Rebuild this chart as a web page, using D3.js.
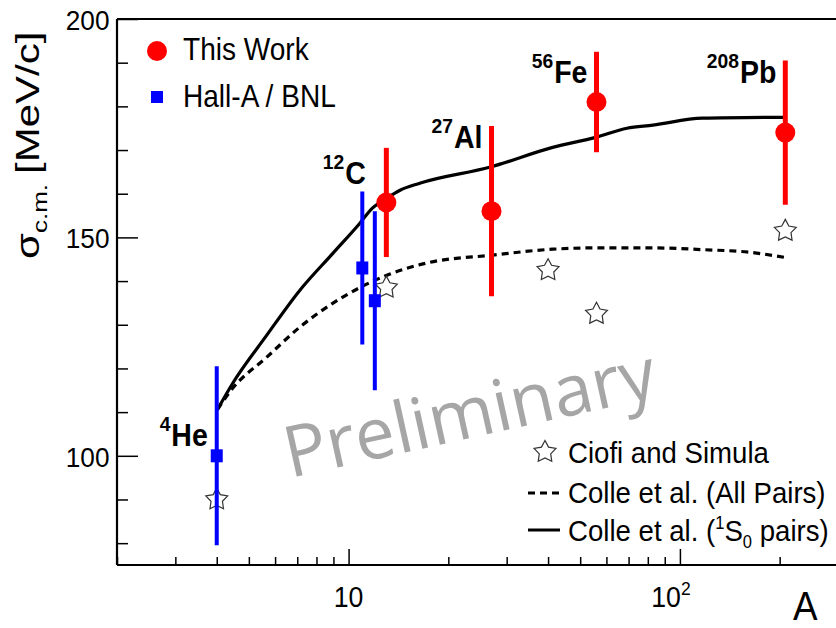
<!DOCTYPE html>
<html>
<head>
<meta charset="utf-8">
<script src="https://cdn.jsdelivr.net/npm/d3@7"></script>
<style>
  body { margin: 0; background: #fff; }
  svg { display: block; }
  text { font-family: "Liberation Sans", Arial, Helvetica, sans-serif; }
</style>
</head>
<body>
<svg id="chart" width="836" height="628"></svg>
<script>
// ---- data ----------------------------------------------------------
// This work (A positions as plotted; 12C is displaced to 13 for clarity)
const thisWorkA     = [13, 27, 56, 208];
const thisWorkSigma = [158, 156, 181, 174];
const thisWorkErr   = [12.5, 19.5, 11.5, 16.5];

// Hall-A / BNL
const hallA_A     = [4, 11, 12];
const hallASigma  = [100, 143, 135.5];
const hallAErr    = [20.5, 17.5, 20.5];

// Ciofi and Simula
const ciofiA     = [4, 13, 40, 56, 208];
const ciofiSigma = [90, 138.5, 142.5, 132.5, 151.5];

// Colle et al. (all pairs)
const colleAllA     = [4.02, 4.46, 5.65, 7.11, 8.95, 10.8, 13.0, 17.6, 26.8, 41.3, 55.7, 82.9, 117, 162, 208];
const colleAllSigma = [110.6, 115.4, 122.5, 129.4, 134.9, 138.5, 141.3, 144.3, 145.9, 147.3, 147.6, 147.6, 147.2, 146.6, 145.4];

// Colle et al. (1S0 pairs)
const colleS0A     = [4.02, 4.46, 5.65, 7.11, 8.95, 10.8, 11.8, 13.0, 14.3, 16.4, 26.8, 41.3, 55.7, 69.2, 82.9, 117, 208];
const colleS0Sigma = [110.6, 116.5, 127.5, 137.8, 146.3, 153.2, 156.7, 158.9, 160.8, 162.4, 166.1, 170.6, 172.9, 175.0, 175.7, 177.3, 177.5];

// nucleus annotations: mass number, symbol, A and sigma level of the baseline
const nucleusMass   = ["4", "12", "27", "56", "208"];
const nucleusSymbol = ["He", "C", "Al", "Fe", "Pb"];
const nucleusA      = [4, 12, 27, 56, 208];
const nucleusLevel  = [102.3, 162.2, 170.4, 185.3, 185.3];

const yMajorTicks = [100, 150, 200];
const yMinorTicks = [80, 90, 110, 120, 130, 140, 160, 170, 180, 190];
const xMajorTicks = [10, 100];
const xMinorTicks = [2, 3, 4, 5, 6, 7, 8, 9, 20, 30, 40, 50, 60, 70, 80, 90, 200, 300];

// ---- layout --------------------------------------------------------
const svg = d3.select("#chart");
const plotLeft = 117, plotTop = 19, plotBottom = 565, plotRight = 838;

const x = d3.scaleLog().domain([2, 300]).range([plotLeft, plotRight]);
const y = d3.scaleLinear().domain([75, 200]).range([plotBottom, plotTop]);

const RED = "#ff0000", BLUE = "#0000ff";
const NARROW = 0.92;   // Helvetica-like glyphs, set slightly condensed

// text placed at (px, py) with a condensed glyph width
function label(parent, px, py, size) {
  return parent.append("text")
    .attr("transform", `translate(${px},${py}) scale(${NARROW},1)`)
    .style("font-size", size + "px");
}

// watermark
svg.append("text")
  .attr("transform", "translate(290,478) rotate(-12.5)")
  .style("font-family", "'Open Sans', sans-serif")
  .style("font-size", "71px")
  .attr("fill", "#a6a6a6")
  .text("Preliminary");

// ---- axes ----------------------------------------------------------
function styleAxis(g) {
  g.select(".domain").remove();
  g.selectAll(".tick line").attr("stroke", "#000").attr("stroke-width", 1.5);
}

svg.append("g").attr("transform", `translate(0,${plotBottom})`)
  .call(d3.axisBottom(x).tickValues(xMinorTicks).tickSize(-8).tickFormat(""))
  .call(styleAxis);
svg.append("g").attr("transform", `translate(0,${plotBottom})`)
  .call(d3.axisBottom(x).tickValues(xMajorTicks).tickSize(-16).tickFormat(""))
  .call(styleAxis);

svg.append("g").attr("transform", `translate(${plotLeft},0)`)
  .call(d3.axisLeft(y).tickValues(yMinorTicks).tickSize(-11).tickFormat(""))
  .call(styleAxis);
const gy = svg.append("g").attr("transform", `translate(${plotLeft},0)`)
  .call(d3.axisLeft(y).tickValues(yMajorTicks).tickSize(-21).tickPadding(7).tickFormat(d3.format("d")))
  .call(styleAxis);
gy.selectAll(".tick text")
  .attr("fill", "#000")
  .attr("x", -7.5 / NARROW)
  .attr("dy", "0.36em")
  .attr("transform", `scale(${NARROW},1)`)
  .style("font-family", "'Liberation Sans', Arial, sans-serif")
  .style("font-size", "28.5px");

// frame
const frame = svg.append("g").attr("stroke", "#000").attr("stroke-width", 2.2).attr("fill", "none");
frame.append("line").attr("x1", plotLeft).attr("x2", 836).attr("y1", plotTop).attr("y2", plotTop);
frame.append("line").attr("x1", plotLeft).attr("x2", plotLeft).attr("y1", plotTop).attr("y2", plotBottom);
frame.append("line").attr("x1", plotLeft).attr("x2", 836).attr("y1", plotBottom).attr("y2", plotBottom);

// x tick labels
label(svg, x(10), 607, 29).attr("text-anchor", "middle").text("10");
const t100 = label(svg, x(100) - 9, 607, 29).attr("text-anchor", "middle");
t100.append("tspan").text("10");
t100.append("tspan").attr("dy", -12).style("font-size", "19px").text("2");

// axis titles
label(svg, 793, 620, 40).text("A");

const yt = svg.append("text")
  .attr("transform", "translate(39,259) rotate(-90) scale(1,0.78)")
  .style("font-size", "42px");
yt.append("tspan").text("σ");
yt.append("tspan").attr("dy", 10).style("font-size", "26px").text("c.m.");
yt.append("tspan").attr("dy", -10).attr("dx", 10).text("[MeV/c]");

// ---- theory curves -------------------------------------------------
const line = d3.line().x(d => x(d[0])).y(d => y(d[1])).curve(d3.curveMonotoneX);

svg.append("path")
  .datum(d3.zip(colleAllA, colleAllSigma))
  .attr("d", line)
  .attr("fill", "none").attr("stroke", "#000").attr("stroke-width", 3.2)
  .attr("stroke-dasharray", "7,5");

svg.append("path")
  .datum(d3.zip(colleS0A, colleS0Sigma))
  .attr("d", line)
  .attr("fill", "none").attr("stroke", "#000").attr("stroke-width", 3.2);

// ---- star markers --------------------------------------------------
function starPath(R, r) {
  const pts = [];
  for (let i = 0; i < 10; i++) {
    const a = -Math.PI / 2 + i * Math.PI / 5;
    const rad = i % 2 === 0 ? R : r;
    pts.push([rad * Math.cos(a), rad * Math.sin(a)]);
  }
  return "M" + pts.map(p => p[0].toFixed(2) + "," + p[1].toFixed(2)).join("L") + "Z";
}
const STAR = starPath(11.5, 6);

svg.append("g").selectAll("path")
  .data(d3.zip(ciofiA, ciofiSigma))
  .join("path")
  .attr("transform", d => `translate(${x(d[0])},${y(d[1])})`)
  .attr("d", STAR)
  .attr("fill", "none").attr("stroke", "#333").attr("stroke-width", 1.2);

// ---- Hall-A / BNL --------------------------------------------------
const hall = d3.zip(hallA_A, hallASigma, hallAErr);
svg.append("g").selectAll("line")
  .data(hall).join("line")
  .attr("x1", d => x(d[0])).attr("x2", d => x(d[0]))
  .attr("y1", d => y(d[1] - d[2])).attr("y2", d => y(d[1] + d[2]))
  .attr("stroke", BLUE).attr("stroke-width", 4);
svg.append("g").selectAll("rect")
  .data(hall).join("rect")
  .attr("x", d => x(d[0]) - 6).attr("y", d => y(d[1]) - 6.5)
  .attr("width", 12).attr("height", 13)
  .attr("fill", BLUE);

// ---- this work -----------------------------------------------------
const tw = d3.zip(thisWorkA, thisWorkSigma, thisWorkErr);
svg.append("g").selectAll("line")
  .data(tw).join("line")
  .attr("x1", d => x(d[0])).attr("x2", d => x(d[0]))
  .attr("y1", d => y(d[1] - d[2])).attr("y2", d => y(d[1] + d[2]))
  .attr("stroke", RED).attr("stroke-width", 5);
svg.append("g").selectAll("circle")
  .data(tw).join("circle")
  .attr("cx", d => x(d[0])).attr("cy", d => y(d[1]))
  .attr("r", 10).attr("fill", RED);

// ---- nucleus labels ------------------------------------------------
nucleusA.forEach((a, i) => {
  const t = label(svg, x(a) - 9, y(nucleusLevel[i]), 31)
    .attr("text-anchor", "end")
    .style("font-weight", "bold");
  t.append("tspan").attr("dy", -15).style("font-size", "21px").text(nucleusMass[i]);
  t.append("tspan").attr("dy", 15).attr("dx", 1).text(nucleusSymbol[i]);
});

// ---- legends -------------------------------------------------------
const legTop = svg.append("g");
legTop.append("circle").attr("cx", 157).attr("cy", 51).attr("r", 10).attr("fill", RED);
label(legTop, 183, 60, 30.5).text("This Work");
legTop.append("rect").attr("x", 151).attr("y", 91).attr("width", 12).attr("height", 12).attr("fill", BLUE);
label(legTop, 183, 107, 30.5).text("Hall-A / BNL");

const legBot = svg.append("g");
legBot.append("path").attr("transform", "translate(545,452)").attr("d", STAR)
  .attr("fill", "none").attr("stroke", "#333").attr("stroke-width", 1.2);
label(legBot, 568, 463, 30).text("Ciofi and Simula");
legBot.append("line").attr("x1", 528).attr("x2", 560).attr("y1", 493).attr("y2", 493)
  .attr("stroke", "#000").attr("stroke-width", 3).attr("stroke-dasharray", "7,5");
label(legBot, 568, 503, 30).text("Colle et al. (All Pairs)");
legBot.append("line").attr("x1", 528).attr("x2", 560).attr("y1", 530).attr("y2", 530)
  .attr("stroke", "#000").attr("stroke-width", 3);
const l3 = label(legBot, 568, 541, 30);
l3.append("tspan").text("Colle et al. (");
l3.append("tspan").attr("dy", -12).style("font-size", "18px").text("1");
l3.append("tspan").attr("dy", 12).text("S");
l3.append("tspan").attr("dy", 7).style("font-size", "18px").text("0");
l3.append("tspan").attr("dy", -7).text(" pairs)");
</script>
</body>
</html>
